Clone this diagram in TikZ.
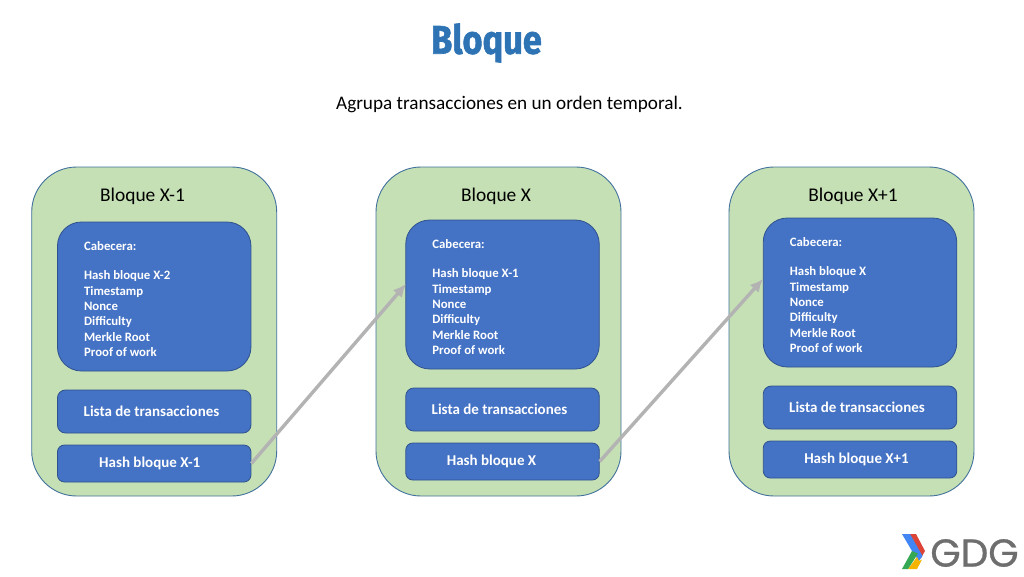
\documentclass[tikz,border=0pt]{standalone}
\usepackage{fontspec}
\setmainfont{Carlito}
\newfontfamily\titlefont[BoldFeatures={FakeBold=1.6}]{Fira Sans}
\newfontfamily\logofont[FakeBold=0.7]{Poppins}
\usetikzlibrary{arrows.meta}
\definecolor{blockgreen}{HTML}{C5E0B4}
\definecolor{blockline}{HTML}{41719C}
\definecolor{innerblue}{HTML}{4472C4}
\definecolor{innerline}{HTML}{2F528F}
\definecolor{linkgray}{HTML}{B3B3B3}
\definecolor{titleblue}{HTML}{2E74B5}
\definecolor{logogray}{HTML}{6E6E6E}
\definecolor{logored}{HTML}{DB4437}
\definecolor{logoblue}{HTML}{4285F4}
\definecolor{logogreen}{HTML}{34A853}
\definecolor{logoyellow}{HTML}{F4B400}
\tikzset{
  blockbox/.style={draw=blockline,fill=blockgreen,line width=0.9pt,rounded corners=45pt,minimum width=245pt,minimum height=329pt},
  headerbox/.style={draw=innerline,fill=innerblue,line width=0.8pt,rounded corners=24pt,minimum width=193.5pt,minimum height=149pt},
  headertext/.style={anchor=west,xshift=26.8pt,yshift=-2.5pt,inner sep=0pt,text=white,align=left,font=\bfseries\fontsize{12.8}{15.4}\selectfont},
  listbox/.style={draw=innerline,fill=innerblue,line width=0.8pt,rounded corners=8pt,minimum width=193.5pt,minimum height=43pt,text=white,font=\bfseries\fontsize{15}{17}\selectfont},
  hashbox/.style={draw=innerline,fill=innerblue,line width=0.8pt,rounded corners=7pt,minimum width=193.5pt,minimum height=37pt,text=white,font=\bfseries\fontsize{15}{17}\selectfont},
  blocklabel/.style={font=\fontsize{19.4}{21}\selectfont},
  link/.style={draw=linkgray,line width=3.4pt,-{Latex[length=13pt,width=12pt]}}
}
\begin{document}
\begin{tikzpicture}[x=1pt,y=-1pt]
  \useasboundingbox (0,0) rectangle (1024,576);
  \node[xscale=0.86] (title) at (486.5,43) {\titlefont\bfseries\color{titleblue}\fontsize{40}{42}\selectfont Bloque};
  \node (subtitle) at (509.5,104.5) {\fontsize{19.2}{22}\selectfont Agrupa transacciones en un orden temporal.};
  % first block
  \node[blockbox] (blocka) at (154.2,331.5) {};
  \node[blocklabel] (labela) at (142.5,196.5) {Bloque X-1};
  \node[headerbox] (heada) at (154.2,296.5) {};
  \node[headertext] (texta) at (heada.west) {Cabecera:\\[14pt]Hash bloque X-2\\Timestamp\\Nonce\\Difficulty\\Merkle Root\\Proof of work};
  \node[listbox] (lista) at (154.2,411.5) {\hspace{-5.4pt}Lista de transacciones};
  \node[hashbox] (hasha) at (154.2,463.5) {\hspace{-9pt}Hash bloque X-1};
  % second block
  \node[blockbox] (blockb) at (498.5,331.5) {};
  \node[blocklabel] (labelb) at (496,196.5) {Bloque X};
  \node[headerbox] (headb) at (502.5,294.5) {};
  \node[headertext] (textb) at (headb.west) {Cabecera:\\[14pt]Hash bloque X-1\\Timestamp\\Nonce\\Difficulty\\Merkle Root\\Proof of work};
  \node[listbox] (listb) at (502.5,409.5) {\hspace{-6pt}Lista de transacciones};
  \node[hashbox] (hashb) at (502.5,461.5) {\hspace{-22pt}Hash bloque X};
  % third block
  \node[blockbox] (blockc) at (851.5,331.5) {};
  \node[blocklabel] (labelc) at (853,196.5) {Bloque X+1};
  \node[headerbox] (headc) at (860,292.5) {};
  \node[headertext] (textc) at (headc.west) {Cabecera:\\[14pt]Hash bloque X\\Timestamp\\Nonce\\Difficulty\\Merkle Root\\Proof of work};
  \node[listbox] (listc) at (860,407.5) {\hspace{-6pt}Lista de transacciones};
  \node[hashbox] (hashc) at (860,459.5) {\hspace{-7pt}Hash bloque X+1};
  % links between blocks
  \coordinate (tipb) at (406,284);
  \coordinate (tipc) at (763,279);
  \draw[link] (hasha.east) -- (tipb);
  \draw[link] (hashb.east) -- (tipc);
  % logo
  \fill[logored] (909,534) -- (916,534) -- (925,551) -- (921,558) -- cycle;
  \fill[logoblue] (902,534) -- (910,534) -- (922.5,556) -- (919,561) -- (912,551) -- cycle;
  \fill[logoyellow] (908,569) -- (917,569) -- (922,559.5) -- (919,561) -- (917,557) -- cycle;
  \fill[logogreen] (902,569) -- (908,569) -- (918,553.5) -- (912,551) -- cycle;
  \node[text=logogray,inner sep=0pt] (logo) at (974.5,553) {\logofont\fontsize{39}{39}\selectfont GDG};
\end{tikzpicture}
\end{document}
